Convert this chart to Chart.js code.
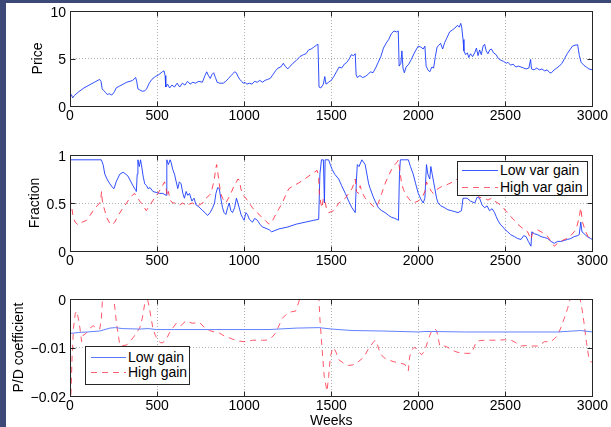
<!DOCTYPE html>
<html>
<head>
<meta charset="utf-8">
<title>Price, fraction and P/D coefficient</title>
<script src="https://cdn.jsdelivr.net/npm/chart.js@4.4.1/dist/chart.umd.min.js"></script>
<style>
  html, body { margin: 0; padding: 0; }
  body {
    width: 611px; height: 427px; position: relative; overflow: hidden;
    background: #fff; font-family: "Liberation Sans", Arial, sans-serif;
  }
  .frame-left { position: absolute; left: 0; top: 0; width: 6px; height: 427px; background: #3d4a77; z-index: 5; }
  .frame-top { position: absolute; left: 0; top: 0; width: 611px; height: 3px; background: #3d4a77; z-index: 5; }
  canvas { position: absolute; left: 0; }
  .legend {
    position: absolute; box-sizing: border-box; background: #fff;
    border: 1px solid #262626; z-index: 4; font-size: 14px; color: #000;
  }
  .legend-row { position: absolute; height: 16px; line-height: 16px; white-space: nowrap; }
  .legend-row svg { position: absolute; top: 0; }
  .legend-row span { position: absolute; top: 0; }
</style>
</head>
<body>
<div class="frame-left"></div>
<div class="frame-top"></div>

<canvas id="priceChart" width="611" height="130" style="top:0"></canvas>
<canvas id="fractionChart" width="611" height="145" style="top:130px"></canvas>
<canvas id="pdChart" width="611" height="154" style="top:275px"></canvas>

<div class="legend" style="left:457px; top:161px; width:131px; height:35px;">
  <div class="legend-row" style="top:0; left:4px;">
    <svg width="36" height="16"><line x1="0" y1="8.5" x2="36" y2="8.5" stroke="#3f5bff" stroke-width="1"/></svg>
    <span style="left:38px">Low var gain</span>
  </div>
  <div class="legend-row" style="top:17px; left:4px;">
    <svg width="36" height="16"><line x1="0" y1="8.5" x2="36" y2="8.5" stroke="#ff6070" stroke-width="1" stroke-dasharray="6 5"/></svg>
    <span style="left:38px">High var gain</span>
  </div>
</div>

<div class="legend" style="left:85px; top:346px; width:105px; height:39px;">
  <div class="legend-row" style="top:2px; left:5px;">
    <svg width="35" height="16"><line x1="0" y1="8.5" x2="35" y2="8.5" stroke="#5a78ff" stroke-width="1"/></svg>
    <span style="left:37px">Low gain</span>
  </div>
  <div class="legend-row" style="top:17px; left:5px;">
    <svg width="35" height="16"><line x1="0" y1="8.5" x2="35" y2="8.5" stroke="#ff6070" stroke-width="1" stroke-dasharray="6 5"/></svg>
    <span style="left:37px">High gain</span>
  </div>
</div>

<script>
// ---- data: [week, value] ----
const weekTicks = [0, 500, 1000, 1500, 2000, 2500, 3000];
const priceTicks = [0, 5, 10];
const priceTickLabels = ["0", "5", "10"];
const fractionTicks = [0, 0.5, 1];
const fractionTickLabels = ["0", "0.5", "1"];
const pdTicks = [-0.02, -0.01, 0];
const pdTickLabels = ["\u22120.02", "\u22120.01", "0"];

const price = [
  [0,1.0],[8,1.2],[15,0.85],[25,1.1],[50,1.5],[80,1.9],[110,2.2],[140,2.5],[170,2.8],[178,2.6],
  [185,1.8],[195,1.6],[205,1.4],[215,1.2],[225,1.3],[240,1.15],[255,1.5],[265,1.9],[285,2.1],[305,2.3],
  [325,2.5],[345,2.6],[360,2.7],[377,3.0],[383,2.6],[390,1.8],[400,1.7],[415,1.55],[430,1.6],[440,1.8],
  [455,2.4],[470,2.8],[490,3.1],[510,3.3],[530,3.6],[540,3.7],[546,3.2],[550,2.0],[560,2.3],[572,1.9],
  [585,2.2],[600,2.0],[615,2.4],[630,2.0],[645,2.4],[660,2.2],[675,2.6],[690,2.3],[705,2.5],[720,2.4],
  [740,2.6],[760,2.5],[775,3.2],[785,3.6],[795,3.2],[805,2.9],[815,3.3],[825,3.5],[835,3.0],[845,2.5],
  [860,2.4],[880,2.4],[895,2.6],[910,2.9],[925,3.2],[935,3.4],[945,3.6],[955,3.5],[965,3.1],[975,2.8],
  [985,2.6],[995,2.4],[1005,2.5],[1015,2.3],[1030,2.4],[1045,2.3],[1060,2.6],[1075,2.5],[1090,2.7],[1105,2.5],
  [1120,2.7],[1135,2.8],[1150,2.9],[1165,3.3],[1180,3.7],[1195,4.0],[1210,4.1],[1225,4.5],[1235,4.2],[1250,3.9],
  [1265,4.2],[1280,4.5],[1300,4.8],[1320,5.2],[1340,5.4],[1355,5.5],[1370,5.9],[1385,6.0],[1400,6.2],[1415,6.4],
  [1424,6.5],[1430,2.0],[1440,1.9],[1455,2.3],[1463,3.1],[1470,2.3],[1485,2.5],[1500,2.7],[1515,3.1],[1530,3.6],
  [1545,4.1],[1560,4.0],[1575,4.4],[1590,4.6],[1605,5.0],[1615,5.4],[1628,5.3],[1638,5.5],[1643,3.3],[1650,3.0],
  [1665,3.2],[1680,3.0],[1695,3.1],[1710,3.3],[1725,3.6],[1740,3.5],[1755,4.0],[1770,4.6],[1785,5.2],[1800,6.1],
  [1815,6.6],[1830,7.0],[1845,7.6],[1860,7.9],[1875,7.8],[1885,7.9],[1890,4.2],[1900,4.5],[1906,5.8],[1912,4.0],
  [1920,3.5],[1930,4.1],[1945,4.4],[1960,4.9],[1975,5.5],[1990,6.0],[2000,6.3],[2015,6.2],[2028,6.0],[2038,6.3],
  [2045,4.2],[2055,3.8],[2066,3.6],[2078,4.1],[2088,4.0],[2098,5.2],[2108,6.2],[2118,6.4],[2128,6.6],[2140,6.0],
  [2152,6.7],[2165,7.2],[2180,7.8],[2195,8.0],[2210,8.2],[2225,8.5],[2235,8.3],[2244,8.7],[2250,8.2],[2257,7.0],
  [2262,5.8],[2272,5.4],[2282,5.6],[2290,5.1],[2300,5.5],[2312,5.2],[2324,5.6],[2334,6.1],[2343,5.3],[2352,5.9],
  [2362,5.4],[2372,6.3],[2381,6.5],[2390,5.8],[2400,5.5],[2410,5.9],[2420,6.0],[2432,5.6],[2447,5.4],[2460,5.0],
  [2476,4.8],[2490,4.7],[2505,4.5],[2515,4.6],[2530,4.3],[2545,4.4],[2560,4.1],[2575,4.2],[2590,4.1],[2605,4.0],
  [2620,3.9],[2635,4.0],[2645,4.9],[2650,3.9],[2665,3.8],[2680,4.0],[2695,3.8],[2710,3.9],[2725,3.7],[2740,3.8],
  [2755,3.5],[2765,3.5],[2780,3.8],[2795,4.0],[2810,4.2],[2825,4.5],[2840,5.0],[2855,5.5],[2870,5.9],[2885,6.3],
  [2900,6.4],[2915,6.45],[2925,5.3],[2935,4.6],[2950,4.3],[2965,4.1],[2980,3.9],[3000,3.8]
];

const lowVarGain = [
  [0,0.95],[180,0.95],[190,0.9],[200,0.8],[215,0.74],[229,0.7],[245,0.66],[253,0.65],[265,0.72],[286,0.8],
  [305,0.82],[320,0.8],[333,0.78],[350,0.72],[362,0.68],[375,0.64],[381,0.62],[386,0.8],[390,0.95],[398,0.88],
  [405,0.95],[410,0.9],[420,0.78],[429,0.7],[440,0.68],[448,0.65],[460,0.66],[476,0.62],[495,0.61],[515,0.6],
  [533,0.6],[552,0.58],[556,0.95],[565,0.9],[575,0.95],[581,0.92],[590,0.85],[600,0.8],[610,0.72],[619,0.65],
  [628,0.72],[638,0.7],[648,0.6],[657,0.55],[667,0.62],[676,0.58],[686,0.6],[700,0.52],[712,0.55],[724,0.48],
  [740,0.46],[762,0.42],[775,0.4],[790,0.37],[805,0.4],[819,0.45],[830,0.5],[838,0.6],[848,0.66],[857,0.65],
  [866,0.55],[876,0.45],[885,0.4],[895,0.38],[905,0.45],[914,0.5],[924,0.42],[933,0.4],[945,0.45],[956,0.55],
  [964,0.5],[972,0.45],[982,0.38],[990,0.35],[1000,0.32],[1010,0.4],[1019,0.38],[1030,0.33],[1048,0.3],[1060,0.34],
  [1076,0.32],[1090,0.28],[1105,0.25],[1120,0.24],[1133,0.23],[1145,0.22],[1158,0.2],[1200,0.23],[1250,0.25],[1300,0.28],
  [1350,0.3],[1400,0.32],[1428,0.33],[1435,0.8],[1444,0.95],[1455,0.95],[1461,0.5],[1465,0.95],[1485,0.95],[1495,0.9],
  [1505,0.85],[1520,0.8],[1543,0.75],[1560,0.68],[1581,0.6],[1600,0.52],[1619,0.45],[1638,0.4],[1645,0.75],[1650,0.9],
  [1660,0.88],[1676,0.95],[1695,0.9],[1705,0.8],[1715,0.7],[1724,0.65],[1740,0.57],[1752,0.52],[1771,0.45],[1790,0.42],
  [1809,0.4],[1830,0.37],[1847,0.35],[1866,0.34],[1886,0.32],[1892,0.8],[1897,0.95],[1920,0.95],[1943,0.95],[1955,0.88],
  [1971,0.8],[1985,0.7],[2000,0.6],[2015,0.54],[2028,0.5],[2038,0.55],[2043,0.75],[2047,0.9],[2055,0.8],[2066,0.75],
  [2072,0.88],[2080,0.8],[2095,0.65],[2105,0.55],[2114,0.5],[2130,0.47],[2152,0.45],[2170,0.43],[2190,0.42],[2210,0.41],
  [2228,0.4],[2248,0.42],[2257,0.55],[2280,0.55],[2300,0.52],[2324,0.5],[2338,0.56],[2352,0.55],[2366,0.48],[2381,0.45],
  [2395,0.47],[2409,0.42],[2424,0.44],[2438,0.4],[2447,0.36],[2457,0.32],[2470,0.28],[2486,0.25],[2500,0.22],[2514,0.2],
  [2530,0.17],[2552,0.15],[2570,0.13],[2590,0.12],[2605,0.16],[2619,0.15],[2632,0.1],[2647,0.05],[2652,0.2],[2666,0.18],
  [2685,0.17],[2705,0.15],[2725,0.14],[2743,0.13],[2762,0.1],[2781,0.08],[2800,0.1],[2819,0.1],[2838,0.11],[2857,0.12],
  [2876,0.13],[2895,0.15],[2915,0.16],[2924,0.17],[2933,0.3],[2940,0.2],[2952,0.18],[2970,0.15],[2990,0.13],[3000,0.12]
];

const highVarGain = [
  [0,0.55],[10,0.45],[19,0.35],[30,0.3],[48,0.27],[70,0.3],[95,0.32],[115,0.37],[133,0.42],[155,0.47],
  [171,0.5],[178,0.56],[181,0.62],[186,0.52],[190,0.48],[200,0.42],[210,0.35],[225,0.3],[238,0.27],[257,0.3],
  [280,0.38],[305,0.45],[325,0.5],[343,0.55],[358,0.58],[371,0.6],[380,0.57],[390,0.55],[400,0.52],[410,0.5],
  [424,0.46],[438,0.42],[452,0.46],[467,0.5],[485,0.55],[505,0.6],[525,0.66],[543,0.72],[552,0.65],[558,0.57],
  [565,0.62],[575,0.53],[590,0.5],[610,0.5],[629,0.48],[648,0.5],[667,0.47],[686,0.49],[705,0.5],[724,0.47],
  [743,0.48],[762,0.5],[781,0.55],[800,0.58],[810,0.6],[820,0.68],[829,0.75],[836,0.85],[842,0.9],[850,0.8],
  [857,0.7],[866,0.6],[876,0.55],[885,0.52],[895,0.5],[910,0.55],[924,0.6],[940,0.67],[956,0.72],[964,0.75],
  [972,0.74],[981,0.65],[990,0.6],[1000,0.57],[1010,0.55],[1020,0.52],[1029,0.5],[1040,0.47],[1048,0.45],[1062,0.42],
  [1076,0.4],[1090,0.37],[1105,0.35],[1125,0.31],[1143,0.28],[1158,0.3],[1170,0.34],[1181,0.38],[1200,0.44],[1219,0.5],
  [1238,0.58],[1257,0.65],[1285,0.68],[1314,0.71],[1340,0.74],[1371,0.78],[1395,0.81],[1419,0.84],[1428,0.78],[1432,0.6],
  [1440,0.5],[1447,0.45],[1455,0.55],[1466,0.5],[1476,0.42],[1486,0.4],[1500,0.41],[1514,0.42],[1530,0.46],[1543,0.5],
  [1560,0.52],[1581,0.55],[1600,0.6],[1619,0.65],[1630,0.7],[1638,0.75],[1645,0.62],[1657,0.6],[1666,0.68],[1676,0.62],
  [1686,0.58],[1695,0.55],[1710,0.52],[1724,0.5],[1738,0.47],[1752,0.45],[1771,0.5],[1790,0.6],[1809,0.7],[1828,0.78],
  [1847,0.85],[1866,0.9],[1880,0.93],[1886,0.95],[1895,0.82],[1905,0.7],[1915,0.64],[1924,0.6],[1943,0.55],[1957,0.52],
  [1971,0.5],[1985,0.51],[2000,0.52],[2015,0.55],[2028,0.58],[2038,0.62],[2047,0.72],[2056,0.68],[2066,0.65],[2076,0.62],
  [2086,0.6],[2100,0.63],[2114,0.65],[2133,0.67],[2152,0.68],[2175,0.7],[2200,0.72],[2230,0.76],[2260,0.8],[2290,0.72],
  [2320,0.65],[2350,0.56],[2380,0.55],[2400,0.53],[2420,0.55],[2438,0.52],[2457,0.5],[2470,0.48],[2486,0.46],[2500,0.42],
  [2514,0.4],[2530,0.36],[2552,0.32],[2570,0.28],[2590,0.25],[2610,0.22],[2628,0.2],[2640,0.15],[2647,0.12],[2655,0.18],
  [2666,0.2],[2685,0.22],[2705,0.2],[2724,0.18],[2743,0.15],[2762,0.1],[2781,0.05],[2800,0.08],[2819,0.1],[2838,0.12],
  [2857,0.13],[2876,0.16],[2895,0.2],[2910,0.25],[2924,0.35],[2933,0.45],[2943,0.3],[2952,0.25],[2962,0.2],[2975,0.15],
  [2990,0.12],[3000,0.1]
];

const lowGain = [
  [0,-0.0071],[50,-0.0069],[100,-0.0068],[171,-0.0066],[229,-0.006],[260,-0.0059],[300,-0.0061],[400,-0.0062],
  [450,-0.0061],[495,-0.0063],[600,-0.0063],[800,-0.0063],[1000,-0.0063],[1143,-0.0063],[1300,-0.006],[1429,-0.0059],
  [1505,-0.0062],[1619,-0.0065],[1790,-0.0066],[2000,-0.0068],[2038,-0.0067],[2076,-0.0067],[2267,-0.0068],
  [2500,-0.0068],[2800,-0.0068],[2933,-0.0065],[3000,-0.0068]
];

const highGain = [
  [0,-0.022],[5,-0.02],[12,-0.012],[20,-0.006],[30,-0.003],[38,-0.0025],[48,-0.004],[57,-0.006],[67,-0.0088],[75,-0.0075],
  [95,-0.007],[115,-0.006],[133,-0.0055],[150,-0.006],[171,-0.0062],[180,-0.004],[190,0.002],[210,0.004],[235,0.003],[248,0.001],
  [258,-0.002],[267,-0.005],[286,-0.0095],[305,-0.0096],[324,-0.0095],[343,-0.0088],[362,-0.008],[381,-0.007],[400,-0.006],[415,-0.004],
  [429,-0.001],[438,0.001],[448,-0.0005],[457,-0.002],[466,-0.004],[476,-0.006],[490,-0.0075],[505,-0.0085],[520,-0.009],[533,-0.009],
  [550,-0.0085],[571,-0.007],[590,-0.006],[610,-0.005],[625,-0.0052],[638,-0.0055],[650,-0.005],[667,-0.0045],[685,-0.0048],[705,-0.005],
  [725,-0.0049],[743,-0.0048],[770,-0.0058],[800,-0.0065],[830,-0.0068],[857,-0.007],[885,-0.0076],[914,-0.008],[935,-0.0083],[952,-0.0085],
  [975,-0.0087],[1000,-0.0088],[1025,-0.0087],[1048,-0.0085],[1075,-0.0085],[1105,-0.0085],[1125,-0.0085],[1143,-0.0083],[1162,-0.0078],[1181,-0.007],
  [1200,-0.0055],[1219,-0.004],[1238,-0.0033],[1257,-0.0028],[1276,-0.0026],[1295,-0.0025],[1310,-0.001],[1324,0.0005],[1340,0.003],[1400,0.003],
  [1428,0.001],[1435,-0.004],[1447,-0.01],[1460,-0.016],[1476,-0.019],[1485,-0.016],[1495,-0.012],[1505,-0.0105],[1514,-0.01],[1528,-0.011],
  [1543,-0.0125],[1562,-0.013],[1581,-0.0135],[1600,-0.0137],[1620,-0.0136],[1638,-0.0135],[1660,-0.0128],[1680,-0.0122],[1695,-0.0115],[1710,-0.0105],
  [1724,-0.0098],[1740,-0.009],[1752,-0.0085],[1766,-0.0095],[1781,-0.0112],[1800,-0.012],[1819,-0.0125],[1840,-0.0127],[1866,-0.013],[1895,-0.0132],
  [1924,-0.0135],[1943,-0.0148],[1950,-0.012],[1962,-0.0105],[1976,-0.01],[1990,-0.0102],[2005,-0.011],[2019,-0.0115],[2030,-0.011],[2038,-0.0105],
  [2052,-0.009],[2066,-0.0075],[2078,-0.0065],[2086,-0.0063],[2096,-0.0062],[2105,-0.0065],[2114,-0.008],[2124,-0.0097],[2140,-0.0098],[2152,-0.0097],
  [2171,-0.01],[2190,-0.0105],[2210,-0.0108],[2228,-0.011],[2248,-0.0111],[2267,-0.0112],[2286,-0.0112],[2305,-0.0112],[2320,-0.01],[2333,-0.0088],
  [2350,-0.0086],[2381,-0.0085],[2420,-0.0085],[2457,-0.0085],[2495,-0.0084],[2533,-0.0085],[2560,-0.009],[2590,-0.0097],[2620,-0.0096],[2647,-0.0097],
  [2670,-0.0097],[2686,-0.0097],[2705,-0.0093],[2724,-0.0088],[2743,-0.0088],[2762,-0.0088],[2781,-0.0082],[2800,-0.0075],[2820,-0.0058],[2838,-0.004],
  [2857,-0.002],[2876,0.0005],[2895,0.002],[2924,0.001],[2940,-0.002],[2952,-0.005],[2966,-0.009],[2981,-0.0125],[2994,-0.013],[3000,-0.0132]
];

// ---- styling ----
Chart.defaults.font.family = '"Liberation Sans", Arial, sans-serif';
Chart.defaults.font.size = 14;
Chart.defaults.color = "#000";

const tickFont = { size: 14, lineHeight: 1 };

// MATLAB-like box with inward tick marks
const boxPlugin = {
  id: "matlabBox",
  afterDraw(chart) {
    const { ctx, chartArea: a, scales: { x, y } } = chart;
    const l = Math.round(a.left) + 0.5;
    const r = Math.round(a.right) + 0.5;
    const t = Math.round(a.top) + 0.5;
    const b = Math.round(a.bottom) + 0.5;
    ctx.save();
    ctx.strokeStyle = "#262626";
    ctx.lineWidth = 1;
    ctx.setLineDash([]);
    ctx.strokeRect(l, t, r - l, b - t);
    ctx.beginPath();
    x.ticks.forEach((tick) => {
      const px = Math.round(x.getPixelForValue(tick.value)) + 0.5;
      ctx.moveTo(px, b); ctx.lineTo(px, b - 5);
      ctx.moveTo(px, t); ctx.lineTo(px, t + 5);
    });
    y.ticks.forEach((tick) => {
      const py = Math.round(y.getPixelForValue(tick.value)) + 0.5;
      ctx.moveTo(l, py); ctx.lineTo(l + 5, py);
      ctx.moveTo(r, py); ctx.lineTo(r - 5, py);
    });
    ctx.stroke();
    ctx.restore();
  },
};

function toPoints(series) {
  return series.map(([week, value]) => ({ x: week, y: value }));
}

function lineSet(series, color, dashed) {
  return {
    data: toPoints(series),
    borderColor: color,
    borderWidth: 1,
    borderDash: dashed ? [6, 5] : [],
    pointRadius: 0,
    tension: 0,
    fill: false,
  };
}

function xAxis(height, title) {
  return {
    type: "linear",
    min: 0,
    max: 3000,
    afterBuildTicks: (scale) => { scale.ticks = weekTicks.map((v) => ({ value: v })); },
    afterFit: (scale) => { scale.height = height; },
    ticks: { font: tickFont, padding: 3, autoSkip: false, maxRotation: 0, callback: (v) => String(v) },
    grid: { color: "#b0b0b0", drawTicks: false },
    border: { display: false, dash: [1, 2] },
    title: title
      ? { display: true, text: title, font: { size: 14, lineHeight: 1 }, padding: { top: 0, bottom: 0.5 } }
      : { display: false },
  };
}

function yAxis(min, max, ticks, labels, title, titleGap) {
  return {
    min,
    max,
    afterBuildTicks: (scale) => { scale.ticks = ticks.map((v) => ({ value: v })); },
    afterFit: (scale) => { scale.width = 70; },
    ticks: { font: tickFont, padding: 4, labelOffset: 2, autoSkip: false, callback: (v, i) => labels[i] },
    grid: { color: "#b0b0b0", drawTicks: false },
    border: { display: false, dash: [1, 2] },
    title: { display: true, text: title, font: { size: 14, lineHeight: 1 }, padding: { top: titleGap, bottom: 0 } },
  };
}

function makeChart(canvasId, datasets, xOpts, yOpts, padTop) {
  return new Chart(document.getElementById(canvasId), {
    type: "line",
    data: { datasets },
    options: {
      responsive: false,
      animation: false,
      events: [],
      layout: { padding: { top: padTop, right: 17, left: 0, bottom: 0 } },
      plugins: { legend: { display: false }, tooltip: { enabled: false } },
      scales: { x: xOpts, y: yOpts },
    },
    plugins: [boxPlugin],
  });
}

makeChart(
  "priceChart",
  [lineSet(price, "rgba(25,60,255,0.9)", false)],
  xAxis(24),
  yAxis(0, 10, priceTicks, priceTickLabels, "Price", 31),
  10
);

makeChart(
  "fractionChart",
  [
    lineSet(highVarGain, "rgba(255,40,60,0.85)", true),
    lineSet(lowVarGain, "rgba(25,60,255,0.9)", false),
  ],
  xAxis(24),
  yAxis(0, 1, fractionTicks, fractionTickLabels, "Fraction", 28),
  25
);

makeChart(
  "pdChart",
  [
    lineSet(lowGain, "rgba(80,115,255,0.9)", false),
    lineSet(highGain, "rgba(255,60,80,0.85)", true),
  ],
  xAxis(33, "Weeks"),
  yAxis(-0.02, 0, pdTicks, pdTickLabels, "P/D coefficient", 12),
  24
);
</script>
</body>
</html>
